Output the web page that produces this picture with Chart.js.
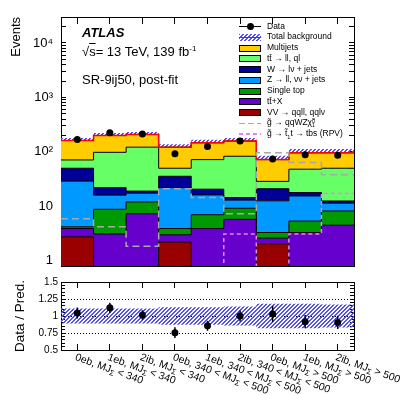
<!DOCTYPE html>
<html>
<head>
<meta charset="utf-8">
<title>SR-9ij50, post-fit</title>
<script src="https://cdn.jsdelivr.net/npm/chart.js@4/dist/chart.umd.min.js"></script>
<style>
  body { margin: 0; background: #fff; }
  #wrap { position: relative; width: 407px; height: 395px; overflow: hidden;
          font-family: "Liberation Sans", Arial, sans-serif; color: #000; }
  #wrap canvas { position: absolute; left: 0; }
  #main { top: 0; }
  #ratio { top: 270px; }
  .txt { position: absolute; white-space: nowrap; font-size: 13px; line-height: 13px; }
  .txt sup { font-size: 8px; line-height: 0; vertical-align: 5px; }
  .sym { position: absolute; left: 239px; width: 22px; height: 8px; }
  .sym div { position: absolute; }
  .lt { position: absolute; left: 267px; font-size: 8.5px; line-height: 9px; white-space: nowrap; }
  .lt sup, .lt sub { font-size: 5.5px; line-height: 0; }
  .lt .ss { display: inline-block; vertical-align: -2px; line-height: 4px; font-size: 5.5px; }
</style>
</head>
<body>
<div id="wrap">
  <canvas id="main" width="407" height="270"></canvas>
  <canvas id="ratio" width="407" height="125"></canvas>
  <div class="txt" style="left:82px;top:25.7px;font-weight:bold;font-style:italic;">ATLAS</div>
  <div class="txt" style="left:82px;top:45px;">√<span style="text-decoration:overline">s</span>= 13 TeV, 139 fb<sup>-1</sup></div>
  <div class="txt" style="left:82px;top:73.3px;">SR-9ij50, post-fit</div>
  <div id="legend"></div>
</div>
<script>
Chart.defaults.font.family = '"Liberation Sans", Arial, sans-serif';
Chart.defaults.color = '#000';

// values
const binLabels = [
    '0eb, MJΣ < 340', '1eb, MJΣ < 340', '2ib, MJΣ < 340',
    '0eb, 340 < MJΣ < 500', '1eb, 340 < MJΣ < 500', '2ib, 340 < MJΣ < 500',
    '0eb, MJΣ > 500', '1eb, MJΣ > 500', '2ib, MJΣ > 500'
];
const dataCounts = [169, 224, 212, 92, 126, 158, 74, 88, 87];
const dataErr    = [13, 15, 14.5, 9.6, 11, 12.5, 8.6, 9.4, 9.3];

// backgrounds, bottom of the stack first
const vvBkg        = [2.75, 0.4, 0.4, 2.2, 0.4, 0.4, 2.04, 0.4, 0.4];
const ttXBkg       = [1.15, 2.7, 6.9, 0.8, 3.5, 5.35, 0.56, 2.9, 4.1];
const singleTopBkg = [0.3, 5.7, 4.7, 0.9, 3.1, 3.45, 0.7, 2.05, 3.7];
const zJetsBkg     = [24.8, 7.2, 5.4, 18.1, 9.2, 3.8, 9.3, 10.15, 3.2];
const wJetsBkg     = [21, 6, 1.6, 13.6, 4.4, 1.5, 8.4, 2.4, 1.1];
const ttbarBkg     = [21, 76, 103, 14.4, 51.4, 68.5, 7.7, 30.1, 37.5];
const multijetBkg  = [91, 102, 87, 72, 75, 75, 43.3, 48, 46];
const bkgRelErr    = [0.11, 0.11, 0.11, 0.13, 0.13, 0.14, 0.18, 0.18, 0.17];

// signals (values below 0.8 sit under the axis)
const sigQQWZ = [5.9, 4.2, 1.84, 21, 14.5, 7.3, 96, 64, 38];
const sigRPV  = [0.3, 0.3, 0.3, 0.3, 0.3, 3.1, 0.3, 3.1, 17.2];

const yTickValues = [1, 10, 100, 1000, 10000];
const yTickLabels = ['1', '10', '10²', '10³', '10⁴'];
const ratioTickValues = [0.5, 0.75, 1, 1.25, 1.5];
const ratioTickLabels = ['0.5', '0.75', '1', '1.25', '1.5'];

const stackSeries = [vvBkg, ttXBkg, singleTopBkg, zJetsBkg, wJetsBkg, ttbarBkg, multijetBkg];
const stackColors = ['#990000', '#6600cc', '#009900', '#0099ff', '#000099', '#66ff66', '#ffcc00'];

const nBins = binLabels.length;
const steps = vals => vals.map((v, i) => ({x: i, y: v})).concat([{x: nBins, y: vals[nBins - 1]}]);
const centers = vals => vals.map((v, i) => ({x: i + 0.5, y: v}));
const errBars = (lo, hi) => lo.flatMap((v, i) => [{x: i + 0.5, y: v}, {x: i + 0.5, y: hi[i]}, {x: i + 0.5, y: null}]);

let running = new Array(nBins).fill(0);
const cumulative = stackSeries.map(s => (running = running.map((r, i) => r + s[i])));
const totalBkg = cumulative[cumulative.length - 1];
const ratio = dataCounts.map((d, i) => d / totalBkg[i]);

// "////" hatch, drawn pixel by pixel so it stays crisp and blue
function hatch() {
    const n = 4;
    const c = document.createElement('canvas');
    c.width = n; c.height = n;
    const g = c.getContext('2d');
    g.fillStyle = 'rgb(80,80,255)';
    for (let i = 0; i < n; i++) {
        g.fillRect(i, n - 1 - i, 1, 1);
        g.fillRect((i + 1) % n, n - 1 - i, 1, 1);
    }
    return g.createPattern(c, 'repeat');
}
const hatchFill = hatch();

// fixes the axis box so both pads share the same frame
const fixSize = (w, h) => s => {
    if (w !== undefined) s.width = w;
    if (h !== undefined) s.height = h;
    s.paddingTop = 0; s.paddingBottom = 0; s.paddingLeft = 0; s.paddingRight = 0;
};
const binTicks = s => { s.ticks = binLabels.map((_, i) => ({value: i + 0.5})); };
const logTicks = s => {
    const t = [];
    for (let e = -1; e <= 4; e++) {
        for (let m = 1; m <= 9; m++) {
            const v = m * Math.pow(10, e);
            if (v >= s.min - 1e-9 && v <= s.max) t.push({value: v});
        }
    }
    s.ticks = t;
};
const frameGrid = len => ({drawOnChartArea: false, tickLength: len, tickColor: '#000', tickWidth: 1});
const frameBorder = {color: '#000', width: 1};

// ---------------- main pad ----------------
const mainSets = [
    {data: centers(dataCounts), showLine: false, pointRadius: 3.5,
     pointBackgroundColor: '#000', pointBorderColor: '#000', pointBorderWidth: 0},
    {data: errBars(dataCounts.map((d, i) => d - dataErr[i]), dataCounts.map((d, i) => d + dataErr[i])),
     borderColor: '#000', borderWidth: 1.5, spanGaps: false},
    {data: steps(sigQQWZ), stepped: true, borderColor: '#a8a8a8', borderWidth: 1.5, borderDash: [7, 4]},
    {data: steps(sigRPV), stepped: true, borderColor: '#f27ff2', borderWidth: 1.5, borderDash: [4, 3]},
    {data: steps(totalBkg), stepped: true, borderColor: '#ff0000', borderWidth: 1.5}
];
cumulative.forEach((c, k) => {
    mainSets.push({data: steps(c), stepped: true, borderColor: '#000', borderWidth: 1,
                   backgroundColor: stackColors[k], fill: k === 0 ? 'start' : '-1'});
});
mainSets.push({data: steps(totalBkg.map((t, i) => t * (1 + bkgRelErr[i]))), stepped: true,
               borderWidth: 0, backgroundColor: hatchFill, fill: '+1'});
mainSets.push({data: steps(totalBkg.map((t, i) => t * (1 - bkgRelErr[i]))), stepped: true, borderWidth: 0});

new Chart(document.getElementById('main'), {
    type: 'line',
    data: {datasets: mainSets},
    options: {
        responsive: false,
        animation: false,
        layout: {padding: 0},
        elements: {point: {radius: 0}, line: {tension: 0}},
        plugins: {legend: {display: false}, tooltip: {enabled: false}},
        scales: {
            x: {type: 'linear', position: 'bottom', min: 0, max: nBins, bounds: 'data', offset: false,
                afterBuildTicks: binTicks, afterFit: fixSize(undefined, 4),
                ticks: {display: false}, grid: frameGrid(-7), border: frameBorder},
            xTop: {type: 'linear', position: 'top', min: 0, max: nBins, bounds: 'data', offset: false,
                afterBuildTicks: binTicks, afterFit: fixSize(undefined, 17),
                ticks: {display: false}, grid: frameGrid(-7), border: frameBorder},
            y: {type: 'logarithmic', position: 'left', min: 0.8, max: 30000, bounds: 'data',
                afterBuildTicks: logTicks, afterFit: fixSize(61, undefined),
                ticks: {autoSkip: false, padding: 13, font: {size: 13},
                        callback: v => {
                            const k = yTickValues.findIndex(t => Math.abs(t - v) < 1e-6 * t);
                            return k < 0 ? '' : yTickLabels[k];
                        }},
                grid: frameGrid(-5), border: frameBorder,
                title: {display: true, text: 'Events', align: 'end', font: {size: 13}, padding: {top: 9}}},
            yRight: {type: 'logarithmic', position: 'right', min: 0.8, max: 30000, bounds: 'data',
                afterBuildTicks: logTicks, afterFit: fixSize(53, undefined),
                ticks: {display: false}, grid: frameGrid(-5), border: frameBorder}
        }
    }
});

// ---------------- ratio pad ----------------
const xLabelPlugin = {
    id: 'slantedBinLabels',
    afterDraw(chart) {
        const ctx = chart.ctx;
        const sx = chart.scales.x;
        const y0 = chart.chartArea.bottom + 2;
        ctx.save();
        ctx.fillStyle = '#000';
        ctx.textBaseline = 'top';
        ctx.textAlign = 'left';
        binLabels.forEach((lab, i) => {
            ctx.save();
            ctx.translate(sx.getPixelForValue(i + 0.5), y0);
            ctx.rotate(20 * Math.PI / 180);
            let x = 0;
            lab.split(/(Σ)/).forEach(part => {
                if (!part) return;
                const sub = part === 'Σ';
                ctx.font = (sub ? '7.5px' : '10.5px') + ' "Liberation Sans", Arial, sans-serif';
                ctx.fillText(part, x, sub ? 4.5 : 0);
                x += ctx.measureText(part).width;
            });
            ctx.restore();
        });
        ctx.restore();
    }
};

const ratioTicks = s => {
    const t = [];
    for (let k = 0; k <= 20; k++) t.push({value: Math.round((0.5 + k * 0.05) * 100) / 100});
    s.ticks = t;
};
const isRatioMajor = v => ratioTickValues.findIndex(t => Math.abs(t - v) < 1e-6);

new Chart(document.getElementById('ratio'), {
    type: 'line',
    data: {datasets: [
        {data: centers(ratio), showLine: false, pointRadius: 3.5,
         pointBackgroundColor: '#000', pointBorderColor: '#000', pointBorderWidth: 0},
        {data: errBars(dataCounts.map((d, i) => (d - dataErr[i]) / totalBkg[i]),
                       dataCounts.map((d, i) => (d + dataErr[i]) / totalBkg[i])),
         borderColor: '#000', borderWidth: 1.5, spanGaps: false},
        {data: steps(bkgRelErr.map(e => 1 + e)), stepped: true, borderWidth: 0,
         backgroundColor: hatchFill, fill: '+1'},
        {data: steps(bkgRelErr.map(e => 1 - e)), stepped: true, borderWidth: 0}
    ]},
    options: {
        responsive: false,
        animation: false,
        layout: {padding: 0},
        elements: {point: {radius: 0}, line: {tension: 0}},
        plugins: {legend: {display: false}, tooltip: {enabled: false}},
        scales: {
            x: {type: 'linear', position: 'bottom', min: 0, max: nBins, bounds: 'data', offset: false,
                afterBuildTicks: binTicks, afterFit: fixSize(undefined, 45),
                ticks: {display: false}, grid: frameGrid(-6), border: frameBorder},
            xTop: {type: 'linear', position: 'top', min: 0, max: nBins, bounds: 'data', offset: false,
                afterBuildTicks: binTicks, afterFit: fixSize(undefined, 12),
                ticks: {display: false}, grid: frameGrid(-6), border: frameBorder},
            y: {type: 'linear', position: 'left', min: 0.5, max: 1.5, bounds: 'data',
                afterBuildTicks: ratioTicks, afterFit: fixSize(61, undefined),
                ticks: {autoSkip: false, padding: 7, font: {size: 10},
                        callback: v => { const k = isRatioMajor(v); return k < 0 ? '' : ratioTickLabels[k]; }},
                grid: {drawOnChartArea: true, tickLength: -4, tickColor: '#000',
                       color: c => {
                           const v = c.tick ? c.tick.value : 0;
                           return (Math.abs(v - 0.75) < 1e-6 || Math.abs(v - 1) < 1e-6 || Math.abs(v - 1.25) < 1e-6)
                               ? '#000' : 'rgba(0,0,0,0)';
                       }},
                border: {color: '#000', width: 1, dash: [1, 2]},
                title: {display: true, text: 'Data / Pred.', align: 'center', font: {size: 13.5}, padding: {top: 12}}},
            yRight: {type: 'linear', position: 'right', min: 0.5, max: 1.5, bounds: 'data',
                afterBuildTicks: ratioTicks, afterFit: fixSize(53, undefined),
                ticks: {display: false}, grid: frameGrid(-4), border: frameBorder}
        }
    },
    plugins: [xLabelPlugin]
});

// ---------------- legend ----------------
const legendNames = [
    'Data', 'Total background', 'Multijets', 'tt̄ → ll, ql', 'W → lν + jets',
    'Z → ll, νν + jets', 'Single top', 'tt̄+X', 'VV → qqll, qqlν',
    'g̃ → qqWZχ̃<span class="ss">0<br>1</span>', 'g̃ → t̃<sub>1</sub>t → tbs (RPV)'
];
const boxSym = col => `<div style="left:0;top:0.5px;width:20px;height:5px;border:1px solid #000;background:${col}"></div>`;
const dashSym = (col, on, off) =>
    `<div style="left:0;top:3.25px;width:22px;height:1.5px;background:repeating-linear-gradient(90deg, ${col} 0 ${on}px, transparent ${on}px ${on + off}px)"></div>`;
const legendSyms = [
    '<div style="left:0;top:3.25px;width:22px;height:1.5px;background:#000"></div>' +
    '<div style="left:7.5px;top:0.5px;width:7px;height:7px;border-radius:50%;background:#000"></div>',
    '<div style="left:0;top:0.5px;width:22px;height:7px;background:repeating-linear-gradient(-45deg, rgb(80,80,255) 0 1.4px, transparent 1.4px 2.8px)"></div>' +
    '<div style="left:0;top:3.5px;width:22px;height:1.5px;background:#ff0000"></div>',
    boxSym(stackColors[6]), boxSym(stackColors[5]), boxSym(stackColors[4]), boxSym(stackColors[3]),
    boxSym(stackColors[2]), boxSym(stackColors[1]), boxSym(stackColors[0]),
    dashSym('#a8a8a8', 6, 3), dashSym('#f27ff2', 4, 3)
];
const leg = document.getElementById('legend');
legendNames.forEach((name, i) => {
    const cy = 26.7 + i * 10.75;
    leg.insertAdjacentHTML('beforeend',
        `<div class="sym" style="top:${cy - 4}px">${legendSyms[i]}</div>` +
        `<div class="lt" style="top:${cy - 5.2}px">${name}</div>`);
});
</script>
</body>
</html>
